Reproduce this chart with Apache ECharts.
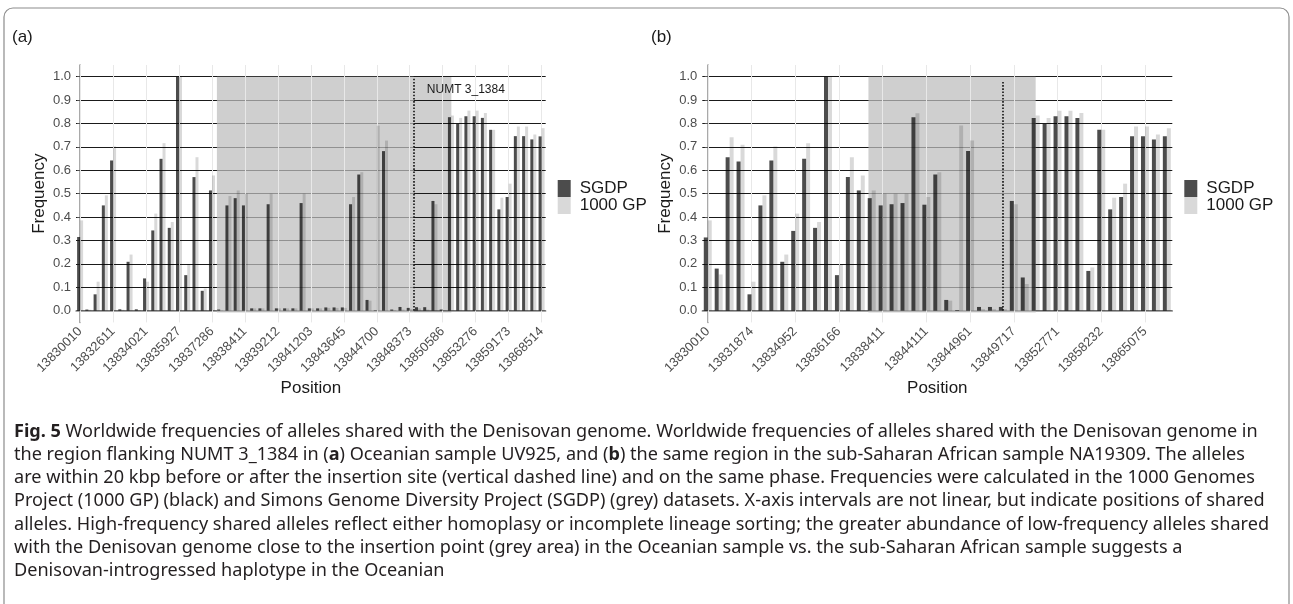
<!DOCTYPE html>
<html>
<head>
<meta charset="utf-8">
<title>Fig. 5</title>
<script src="https://cdn.jsdelivr.net/npm/echarts@6/dist/echarts.min.js"></script>
<style>
    html, body { margin: 0; padding: 0; background: #fff; }
    #chart { width: 1293px; height: 604px; }
</style>
</head>
<body>
<div id="chart"></div>
<script>
"use strict"

// labelled positions, one every 4 alleles
const ticksA = ["13830010", "13832611", "13834021", "13835927", "13837286", "13838411", "13839212", "13841203",
    "13843645", "13844700", "13848373", "13850586", "13853276", "13859173", "13868514"];
const ticksB = ["13830010", "13831874", "13834952", "13836166", "13838411", "13844111", "13844961", "13849717",
    "13852771", "13858232", "13865075"];

// (a) Oceanian sample UV925
const sgdpA = [0.315, 0.005, 0.07, 0.45, 0.642, 0.006, 0.209, 0.006, 0.138, 0.343, 0.649, 0.354, 1.0, 0.152, 0.571, 0.085,
    0.514, 0.005, 0.45, 0.481, 0.45, 0.01, 0.01, 0.455, 0.01, 0.01, 0.01, 0.46, 0.01, 0.01, 0.014, 0.014,
    0.014, 0.455, 0.582, 0.046, 0.002, 0.682, 0.005, 0.016, 0.012, 0.015, 0.015, 0.469, 0.005, 0.827, 0.798, 0.831,
    0.831, 0.824, 0.773, 0.433, 0.486, 0.746, 0.746, 0.732, 0.745];
const gpA = [0.386, 0.004, 0.124, 0.493, 0.702, 0.004, 0.24, 0.003, 0.124, 0.415, 0.716, 0.379, 1.0, 0.199, 0.656, 0.095,
    0.578, 0.002, 0.49, 0.514, 0.5, 0.01, 0.01, 0.5, 0.01, 0.01, 0.01, 0.5, 0.01, 0.01, 0.012, 0.012,
    0.012, 0.486, 0.592, 0.043, 0.791, 0.727, 0.003, 0.005, 0.008, 0.01, 0.005, 0.455, 0.002, 0.834, 0.824, 0.855,
    0.855, 0.845, 0.773, 0.483, 0.543, 0.787, 0.787, 0.753, 0.78];

// (b) sub-Saharan African sample NA19309
const sgdpB = [0.313, 0.18, 0.656, 0.638, 0.07, 0.45, 0.642, 0.209, 0.341, 0.649, 0.354, 1.0, 0.152, 0.571, 0.514, 0.481,
    0.45, 0.455, 0.46, 0.827, 0.453, 0.582, 0.046, 0.003, 0.682, 0.016, 0.016, 0.016, 0.469, 0.142, 0.824, 0.798,
    0.831, 0.831, 0.824, 0.17, 0.773, 0.433, 0.486, 0.746, 0.746, 0.732, 0.745];
const gpB = [0.386, 0.155, 0.741, 0.709, 0.124, 0.493, 0.702, 0.24, 0.415, 0.716, 0.379, 1.0, 0.199, 0.656, 0.578, 0.514,
    0.5, 0.5, 0.5, 0.844, 0.486, 0.592, 0.043, 0.791, 0.727, 0.007, 0.007, 0.007, 0.455, 0.114, 0.834, 0.824,
    0.855, 0.855, 0.845, 0.185, 0.773, 0.483, 0.543, 0.787, 0.787, 0.753, 0.78];

// grey area [start, insertion, end] and insertion site, in allele index units
const shadeA = [16.6, 40.5, 45.05];
const shadeB = [14.7, 27, 30.0];
const yTicks = [0, 0.1, 0.2, 0.3, 0.4, 0.5, 0.6, 0.7, 0.8, 0.9, 1.0];
const seriesNames = ["SGDP", "1000 GP"];
const numtLabel = "NUMT 3_1384";

const caption = [
    "{b|Fig. 5} Worldwide frequencies of alleles shared with the Denisovan genome. Worldwide frequencies of alleles shared with the Denisovan genome in",
    "the region flanking NUMT 3_1384 in ({b|a}) Oceanian sample UV925, and ({b|b}) the same region in the sub-Saharan African sample NA19309. The alleles",
    "are within 20 kbp before or after the insertion site (vertical dashed line) and on the same phase. Frequencies were calculated in the 1000 Genomes",
    "Project (1000 GP) (black) and Simons Genome Diversity Project (SGDP) (grey) datasets. X-axis intervals are not linear, but indicate positions of shared",
    "alleles. High-frequency shared alleles reflect either homoplasy or incomplete lineage sorting; the greater abundance of low-frequency alleles shared",
    "with the Denisovan genome close to the insertion point (grey area) in the Oceanian sample vs. the sub-Saharan African sample suggests a",
    "Denisovan-introgressed haplotype in the Oceanian"
];

const FONT = "Liberation Sans";
const CAPFONT = "Noto Sans";
const dark = "rgba(0,0,0,0.7)", light = "rgba(0,0,0,0.15)";

const grids = [], xAxes = [], yAxes = [], series = [], legends = [];

function addPanel(i, ticks, sgdp, gp, shade, lineTop, left, width, hasLabel)
{
    const n = sgdp.length;
    const cats = Array.from({ length: n }, (_, k) => k % 4 === 0 ? ticks[k / 4] : "");
    grids.push({ left: left, top: 65, width: width, height: 257.4 });
    xAxes.push({
        gridIndex: i, type: "category", data: cats, boundaryGap: true,
        axisLine: { lineStyle: { color: "#8c8c8c", width: 1.5 } },
        axisTick: { interval: 3, alignWithLabel: true, length: 4, lineStyle: { color: "#8c8c8c" } },
        axisLabel: { interval: 3, rotate: 45, fontSize: 13, color: "#4d4d4d", margin: 7, fontFamily: FONT },
        splitLine: { show: false },
        name: "Position", nameLocation: "middle", nameGap: 57,
        nameTextStyle: { fontSize: 17, color: "#1a1a1a", fontFamily: FONT }
    });
    xAxes.push({ gridIndex: i, type: "value", min: -0.5, max: n - 0.5, show: false });
    yAxes.push({
        gridIndex: i, type: "value", min: -0.05, max: 1.05,
        axisLine: { show: true, lineStyle: { color: "#8c8c8c", width: 1.5 } },
        axisTick: { show: true, length: 3, customValues: yTicks, lineStyle: { color: "#555" } },
        axisLabel: { customValues: yTicks, formatter: v => v.toFixed(1), fontSize: 13, color: "#4d4d4d", margin: 5, fontFamily: FONT },
        splitLine: { show: true, lineStyle: { color: "#1a1a1a", width: 1 } },
        name: "Frequency", nameLocation: "middle", nameGap: 28,
        nameTextStyle: { fontSize: 17, color: "#1a1a1a", fontFamily: FONT }
    });
    const bar = (name, data, color) => ({
        type: "bar", name: name, xAxisIndex: 2 * i, yAxisIndex: i, data: data,
        barGap: "0%", barCategoryGap: "27%", itemStyle: { color: color }, emphasis: { disabled: true }, z: 2
    });
    series.push(bar(seriesNames[0], sgdp, dark), bar(seriesNames[1], gp, light));

    const helper = extra => Object.assign({ type: "line", xAxisIndex: 2 * i + 1, yAxisIndex: i, data: [], silent: true, symbol: "none" }, extra);
    // grey area before insertion (over the grid), light grid lines at labelled positions
    const endLeft = hasLabel ? shade[1] : shade[2];
    series.push(helper({
        markArea: {
            z: 1, silent: true, itemStyle: { color: "rgba(189,189,189,0.73)" },
            data: [[{ xAxis: shade[0], yAxis: -0.008 }, { xAxis: endLeft, yAxis: 1 }]]
        },
        markLine: {
            z: 1.5, silent: true, symbol: ["none", "none"], label: { show: false },
            lineStyle: { color: "#e8e8e8", width: 1, type: "solid" },
            data: ticks.map((t, k) => ({ xAxis: k * 4 }))
        }
    }));
    if (hasLabel)
    {
        // grey area after insertion (under the grid)
        series.push(helper({
            markArea: {
                z: -1, silent: true, itemStyle: { color: "#cfcfcf" },
                data: [[{ xAxis: shade[1], yAxis: -0.008 }, { xAxis: shade[2], yAxis: 1 }]]
            }
        }));
    }
    // insertion site
    const marks = {
        markLine: {
            z: 5, silent: true, symbol: ["none", "none"], label: { show: false },
            lineStyle: { color: "#111", width: 1.6, type: "dotted" },
            data: [[{ coord: [shade[1], 0] }, { coord: [shade[1], lineTop] }]]
        }
    };
    if (hasLabel)
        marks.markPoint = {
            z: 5, silent: true, symbol: "rect", symbolSize: 0,
            label: { show: true, position: "right", distance: 13, formatter: numtLabel, color: "#1a1a1a", fontSize: 12, fontFamily: FONT },
            data: [{ coord: [shade[1], 0.945] }]
        };
    series.push(helper(marks));

    legends.push({
        orient: "vertical", left: left + width + 12, top: 180, itemWidth: 13, itemHeight: 17, itemGap: 0, padding: 0,
        icon: "rect", selectedMode: false, data: seriesNames,
        textStyle: { fontSize: 17, lineHeight: 17, color: "#1a1a1a", fontFamily: FONT, padding: [0, 0, 0, 4] }
    });
}

addPanel(0, ticksA, sgdpA, gpA, shadeA, 1.0, 76, 469.7, true);
addPanel(1, ticksB, sgdpB, gpB, shadeB, 0.98, 702.3, 470, false);

const capStyle = { fontSize: 18.1, fontFamily: CAPFONT, lineHeight: 23.2, fill: "#231f20" };
const myChart = echarts.init(document.getElementById("chart"), null, { renderer: "canvas" });
myChart.setOption({
    animation: false,
    grid: grids,
    xAxis: xAxes,
    yAxis: yAxes,
    legend: legends,
    series: series,
    graphic: [
        {
            type: "rect", silent: true, z: -10,
            shape: { x: 4, y: 8, width: 1285, height: 700, r: 9 },
            style: { fill: "none", stroke: "#8c8c8c", lineWidth: 1.2 }
        },
        { type: "text", left: 12, top: 29, style: { text: "(a)", fontSize: 17, fontFamily: FONT, fill: "#1a1a1a" } },
        { type: "text", left: 651, top: 29, style: { text: "(b)", fontSize: 17, fontFamily: FONT, fill: "#1a1a1a" } },
        {
            type: "text", left: 14, top: 420,
            style: Object.assign({
                text: caption.join("\n"),
                rich: { b: Object.assign({ fontWeight: "bold" }, capStyle) }
            }, capStyle)
        }
    ]
});
</script>
</body>
</html>
